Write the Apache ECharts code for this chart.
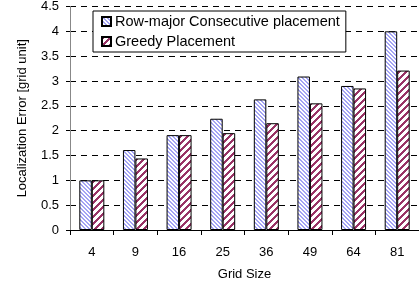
<!DOCTYPE html>
<html>
<head>
<meta charset="utf-8">
<script src="https://cdn.jsdelivr.net/npm/echarts@6/dist/echarts.min.js"></script>
<style>
  html, body { margin: 0; padding: 0; background: #fff; }
  #chart { width: 419px; height: 288px; }
</style>
</head>
<body>
<div id="chart"></div>
<script>
const gridSizes = ['4', '9', '16', '25', '36', '49', '64', '81']
const rowMajor = [1.0, 1.61, 1.91, 2.24, 2.63, 3.09, 2.9, 4.0]
const greedy = [1.0, 1.44, 1.91, 1.95, 2.15, 2.55, 2.85, 3.21]
const yTicks = [0, 0.5, 1, 1.5, 2, 2.5, 3, 3.5, 4, 4.5]

const FONT = 'Liberation Sans'

// striped fill, dir 1 = "\" , -1 = "/"
function stripes(color, period, width, dir) {
  const c = document.createElement('canvas')
  c.width = period
  c.height = period
  const ctx = c.getContext('2d')
  ctx.fillStyle = '#fff'
  ctx.fillRect(0, 0, period, period)
  ctx.fillStyle = color
  for (let x = 0; x < period; x++) {
    for (let y = 0; y < period; y++) {
      const k = dir > 0 ? (x - y + period * 2) % period : (x + y) % period
      if (k < width) ctx.fillRect(x, y, 1, 1)
    }
  }
  return { image: c, repeat: 'repeat' }
}

const blueFill = stripes('#a4a4f4', 4, 2, 1)
const redFill = stripes('#993366', 7, 3, -1)

const chart = echarts.init(document.getElementById('chart'), null, { renderer: 'canvas' })

chart.setOption({
  animation: false,
  backgroundColor: '#fff',
  textStyle: { fontFamily: FONT },
  grid: { left: 70, right: 0, top: 6, bottom: 58 },
  legend: {
    orient: 'vertical',
    left: 93,
    top: 11,
    itemWidth: 9,
    itemHeight: 9,
    itemGap: 5,
    padding: [3, 6, 3, 8],
    borderColor: '#000',
    borderWidth: 1,
    backgroundColor: '#fff',
    icon: 'rect',
    textStyle: { fontFamily: FONT, fontSize: 14.5, color: '#000', padding: [0, 0, 0, -1] },
    data: ['Row-major Consecutive placement', 'Greedy Placement']
  },
  xAxis: {
    type: 'category',
    data: gridSizes,
    name: 'Grid Size',
    nameLocation: 'middle',
    nameGap: 38,
    nameTextStyle: { fontFamily: FONT, fontSize: 13, color: '#000' },
    axisLine: { lineStyle: { color: '#000', width: 1 } },
    axisTick: { show: true, length: 5, lineStyle: { color: '#000' } },
    axisLabel: { fontFamily: FONT, fontSize: 13, color: '#000', margin: 16 }
  },
  yAxis: {
    type: 'value',
    min: 0,
    max: 4.5,
    interval: 0.5,
    name: 'Localization Error [grid unit]',
    nameLocation: 'middle',
    nameGap: 41,
    nameTextStyle: { fontFamily: FONT, fontSize: 13, color: '#000' },
    axisLine: { show: true, lineStyle: { color: '#888', width: 1 } },
    axisTick: { show: true, length: 4, inside: false, lineStyle: { color: '#000' } },
    axisLabel: {
      fontFamily: FONT, fontSize: 13, color: '#000', margin: 11,
      formatter: v => yTicks.includes(v) ? String(v) : ''
    },
    splitLine: { show: true, lineStyle: { color: '#000', type: [6, 5], width: 1 } }
  },
  series: [
    {
      name: 'Row-major Consecutive placement',
      type: 'bar',
      data: rowMajor,
      barWidth: 12.5,
      barGap: '0%',
      itemStyle: { color: blueFill, borderColor: '#000', borderWidth: 1 }
    },
    {
      name: 'Greedy Placement',
      type: 'bar',
      data: greedy,
      barWidth: 12.5,
      itemStyle: { color: redFill, borderColor: '#000', borderWidth: 1 }
    }
  ]
})
</script>
</body>
</html>
